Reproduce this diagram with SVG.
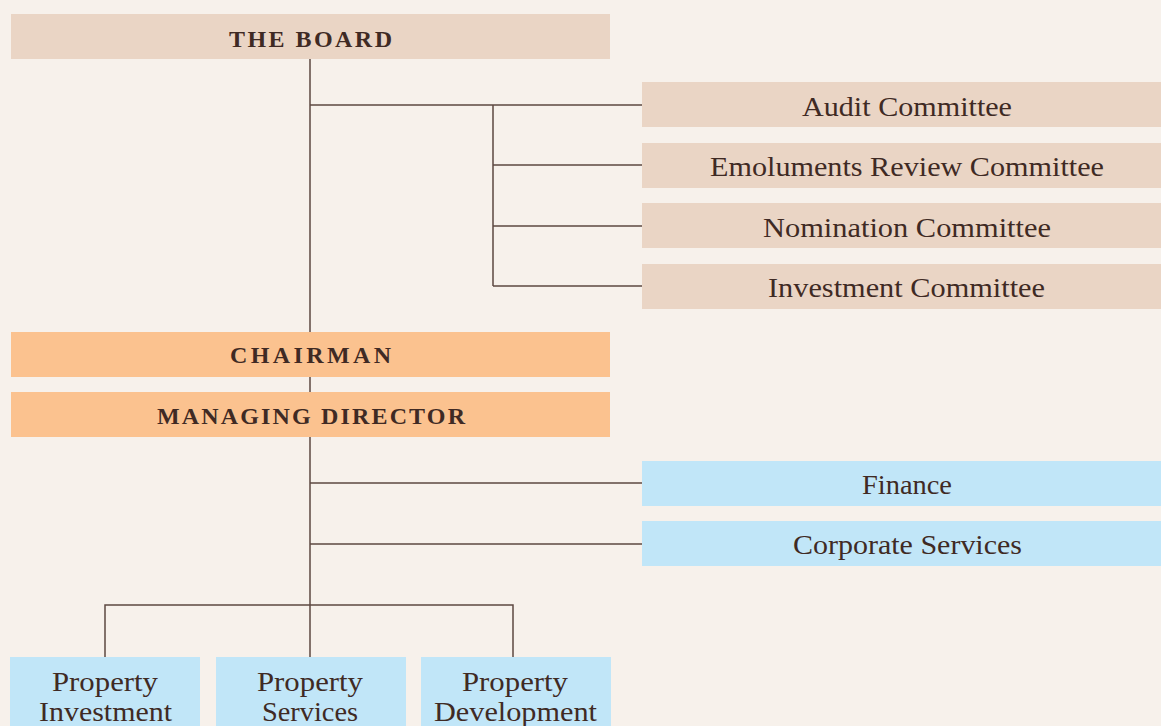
<svg xmlns="http://www.w3.org/2000/svg" width="1161" height="726" viewBox="0 0 1161 726">
<style>
.bg{fill:#f7f1eb}
.beige{fill:#ead5c5}
.orange{fill:#fbc28f}
.blue{fill:#c1e6f8}
text{font-family:"Liberation Serif","DejaVu Serif",serif;fill:#3f2a24;text-anchor:middle}
.cap{font-size:24px;font-weight:bold}
.lbl{font-size:27px}
.con{stroke:#5e4842;stroke-width:1.5;fill:none}
</style>
<rect class="bg" width="1161" height="726"/>
<g id="connectors">
<path class="con" d="M310,59V332M310,377V392M310,437V657M310,105H642M493,105V286M493,165H642M493,226H642M493,286H642M310,483H642M310,544H642M105,657V605H513V657"/>
</g>
<g id="board"><rect class="beige" x="11" y="14" width="599" height="45"/><text class="cap" x="310.5" y="47" textLength="163" lengthAdjust="spacing">THE BOARD</text></g>
<g id="audit"><rect class="beige" x="642" y="82" width="519" height="45"/><text class="lbl" x="907" y="116" textLength="210" lengthAdjust="spacingAndGlyphs">Audit Committee</text></g>
<g id="emoluments"><rect class="beige" x="642" y="143" width="519" height="45"/><text class="lbl" x="907" y="176" textLength="394" lengthAdjust="spacingAndGlyphs">Emoluments Review Committee</text></g>
<g id="nomination"><rect class="beige" x="642" y="203" width="519" height="45"/><text class="lbl" x="907" y="237" textLength="288" lengthAdjust="spacingAndGlyphs">Nomination Committee</text></g>
<g id="investment-committee"><rect class="beige" x="642" y="264" width="519" height="45"/><text class="lbl" x="906.5" y="297" textLength="277" lengthAdjust="spacingAndGlyphs">Investment Committee</text></g>
<g id="chairman"><rect class="orange" x="11" y="332" width="599" height="45"/><text class="cap" x="310.5" y="363" textLength="161" lengthAdjust="spacing">CHAIRMAN</text></g>
<g id="md"><rect class="orange" x="11" y="392" width="599" height="45"/><text class="cap" x="311" y="424" textLength="308" lengthAdjust="spacing">MANAGING DIRECTOR</text></g>
<g id="finance"><rect class="blue" x="642" y="461" width="519" height="45"/><text class="lbl" x="907" y="494" textLength="90" lengthAdjust="spacingAndGlyphs">Finance</text></g>
<g id="corporate"><rect class="blue" x="642" y="521" width="519" height="45"/><text class="lbl" x="907.5" y="554" textLength="229" lengthAdjust="spacingAndGlyphs">Corporate Services</text></g>
<g id="prop-investment"><rect class="blue" x="10" y="657" width="190" height="69"/><text class="lbl" x="105" y="691" textLength="106" lengthAdjust="spacingAndGlyphs">Property</text><text class="lbl" x="105.5" y="721" textLength="133" lengthAdjust="spacingAndGlyphs">Investment</text></g>
<g id="prop-services"><rect class="blue" x="216" y="657" width="190" height="69"/><text class="lbl" x="310" y="691" textLength="106" lengthAdjust="spacingAndGlyphs">Property</text><text class="lbl" x="310" y="721" textLength="96" lengthAdjust="spacingAndGlyphs">Services</text></g>
<g id="prop-development"><rect class="blue" x="421" y="657" width="190" height="69"/><text class="lbl" x="515" y="691" textLength="106" lengthAdjust="spacingAndGlyphs">Property</text><text class="lbl" x="515.5" y="721" textLength="163" lengthAdjust="spacingAndGlyphs">Development</text></g>
</svg>
